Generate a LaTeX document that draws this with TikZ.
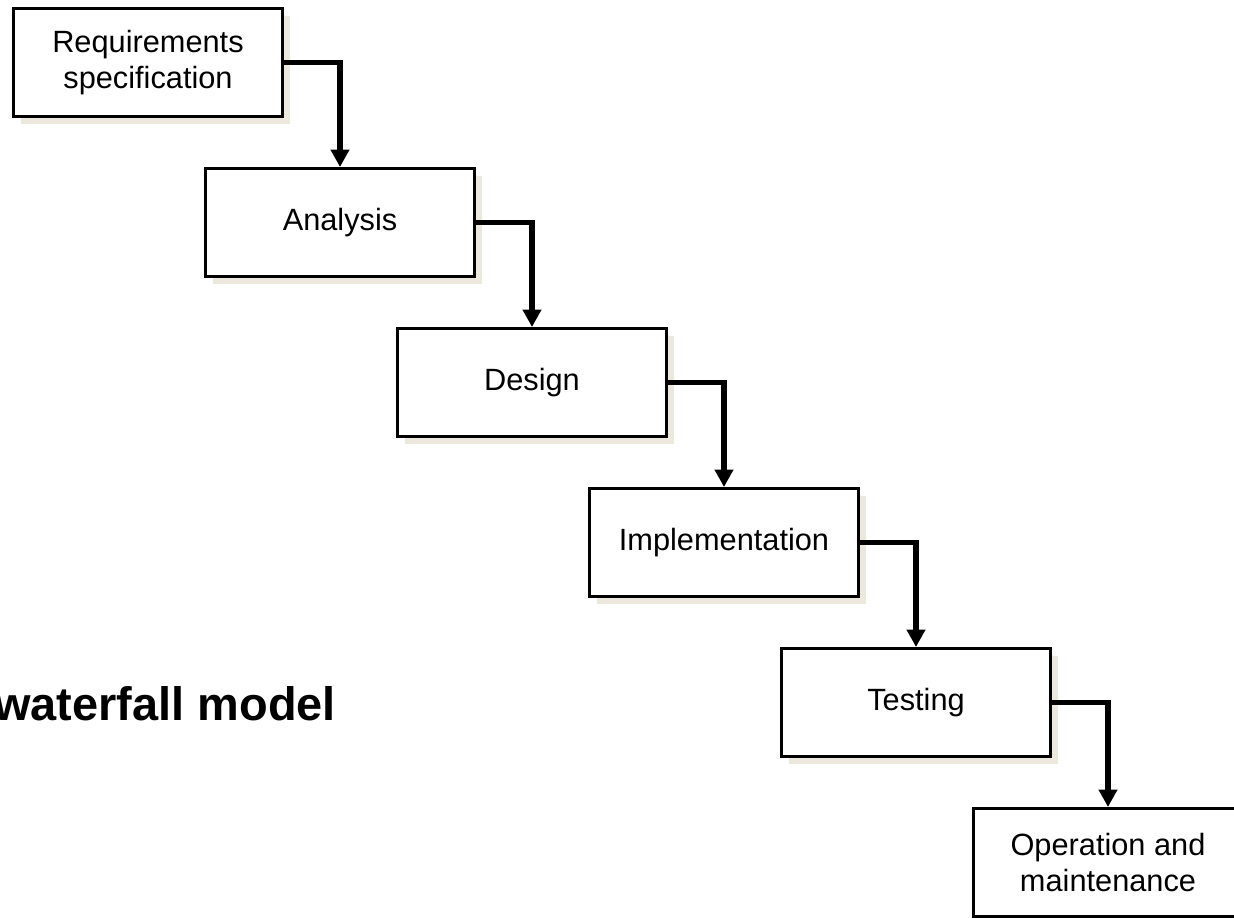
\documentclass[tikz,border=0pt]{standalone}
\usepackage{fontspec}
\setmainfont{Liberation Sans}
\usepackage{xcolor}
\usepackage{tikz}
\usetikzlibrary{arrows.meta,shadows}

\definecolor{shadowbeige}{RGB}{236,233,220}

\begin{document}
\begin{tikzpicture}[
  x=0.02cm, y=-0.02cm,
  font=\fontsize{17.5}{20.5}\selectfont,
  phasebox/.style={draw, line width=1.7pt, fill=white, minimum width=5.38cm, minimum height=2.16cm, align=center, inner sep=0pt,
    drop shadow={shadow xshift=0.15cm, shadow yshift=-0.15cm, fill=shadowbeige, opacity=1}},
  flow/.style={-{Triangle[length=0.35cm, width=0.36cm]}, line width=3pt}
]
\useasboundingbox (0,0) rectangle (1234,918);
\clip (0,0) rectangle (1234,918);
\node[phasebox] (ph1) at (148,62.5) {Requirements\\specification};
\node[phasebox] (ph2) at (340,222.5) {Analysis};
\node[phasebox] (ph3) at (532,382.5) {Design};
\node[phasebox] (ph4) at (724,542.5) {Implementation};
\node[phasebox] (ph5) at (916,702.5) {Testing};
\node[phasebox] (ph6) at (1108,862.5) {Operation and\\maintenance};
\foreach \i/\j in {1/2,2/3,3/4,4/5,5/6}
  \draw[flow] (ph\i.east) -| (ph\j.north);
\node[anchor=base west, inner sep=0pt, font=\fontsize{26.7}{30}\selectfont\bfseries] (title) at (-6,720) {waterfall model};
\end{tikzpicture}
\end{document}
